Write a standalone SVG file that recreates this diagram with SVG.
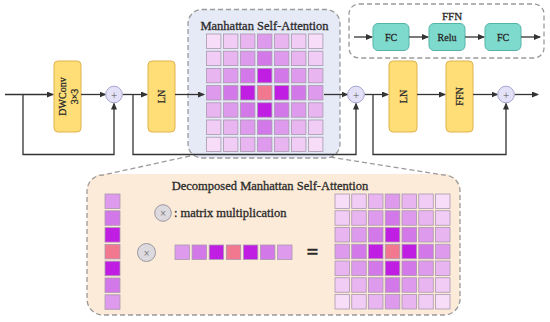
<svg xmlns="http://www.w3.org/2000/svg" width="550" height="322" viewBox="0 0 550 322">
<defs>
<marker id="ah" markerUnits="userSpaceOnUse" markerWidth="7" markerHeight="6" refX="6" refY="3" orient="auto">
<path d="M0,0 L7,3 L0,6 Z" fill="#333"/>
</marker>
<style>
text{font-family:"Liberation Serif","Times New Roman",serif;fill:#2a2a2a;stroke:#2a2a2a;stroke-width:0.3}
.yb{fill:#FFDE78;stroke:#E2B24C;stroke-width:1}
.tb{fill:#7FDACE;stroke:#52B3A6;stroke-width:1}
.add{fill:#E3E1F7;stroke:#A6A4D2;stroke-width:1}
.mul{fill:#DCDADF;stroke:#9A98A0;stroke-width:1}
text.sym{font-family:"DejaVu Sans",sans-serif;font-size:8px;fill:#777;stroke:none;text-anchor:middle}
.ln{fill:none;stroke:#333;stroke-width:1.3}
.dash{fill:none;stroke:#9a9a9a;stroke-width:1.3;stroke-dasharray:5,3}
.lbl{font-size:10px;text-anchor:middle}
.ttl{font-size:12.5px;text-anchor:middle}
.cell rect{stroke:#A898AE;stroke-width:0.8}
.c0{fill:#F2788F}.c1{fill:#C01FE3}.c2{fill:#D378E8}.c3{fill:#DE9AEC}.c4{fill:#E9B5F0}.c5{fill:#F1CCF5}.c6{fill:#F8DDF9}
</style>
</defs>

<!-- zoom callout -->
<g id="decomposed">
<rect x="87" y="174" width="373" height="141" rx="16" fill="#FCEBD8"/>
<path class="dash" d="M190,156 L103,175 A16,16 0 0 0 87,191 L87,299 A16,16 0 0 0 103,315 L444,315 A16,16 0 0 0 460,299 L460,191 A16,16 0 0 0 444,175 L330,157"/>
<text class="ttl" x="270" y="190">Decomposed Manhattan Self-Attention</text>
<circle class="mul" cx="163" cy="213" r="8.3"/>
<text class="sym" x="163" y="216">×</text>
<text x="174" y="217" font-size="12.5">: matrix multiplication</text>
<g class="cell">
<rect class="c3" x="105" y="194" width="15" height="14.5"/>
<rect class="c2" x="105" y="210.8" width="15" height="14.5"/>
<rect class="c1" x="105" y="227.6" width="15" height="14.5"/>
<rect class="c0" x="105" y="244.4" width="15" height="14.5"/>
<rect class="c1" x="105" y="261.2" width="15" height="14.5"/>
<rect class="c2" x="105" y="278" width="15" height="14.5"/>
<rect class="c3" x="105" y="294.8" width="15" height="14.5"/>
</g>
<circle class="mul" cx="146.5" cy="252.5" r="9"/>
<text class="sym" x="146.5" y="255.5">×</text>
<g class="cell">
<rect class="c3" x="175" y="245" width="14.4" height="14.4"/>
<rect class="c2" x="192.1" y="245" width="14.4" height="14.4"/>
<rect class="c1" x="209.2" y="245" width="14.4" height="14.4"/>
<rect class="c0" x="226.3" y="245" width="14.4" height="14.4"/>
<rect class="c1" x="243.4" y="245" width="14.4" height="14.4"/>
<rect class="c2" x="260.5" y="245" width="14.4" height="14.4"/>
<rect class="c3" x="277.6" y="245" width="14.4" height="14.4"/>
</g>
<text x="312.5" y="259" font-size="21" font-weight="bold" text-anchor="middle">=</text>
<g class="cell">
<rect class="c6" x="335" y="194" width="14.5" height="14.5"/><rect class="c5" x="351.75" y="194" width="14.5" height="14.5"/><rect class="c4" x="368.5" y="194" width="14.5" height="14.5"/><rect class="c3" x="385.25" y="194" width="14.5" height="14.5"/><rect class="c4" x="402" y="194" width="14.5" height="14.5"/><rect class="c5" x="418.75" y="194" width="14.5" height="14.5"/><rect class="c6" x="435.5" y="194" width="14.5" height="14.5"/>
<rect class="c5" x="335" y="210.75" width="14.5" height="14.5"/><rect class="c4" x="351.75" y="210.75" width="14.5" height="14.5"/><rect class="c3" x="368.5" y="210.75" width="14.5" height="14.5"/><rect class="c2" x="385.25" y="210.75" width="14.5" height="14.5"/><rect class="c3" x="402" y="210.75" width="14.5" height="14.5"/><rect class="c4" x="418.75" y="210.75" width="14.5" height="14.5"/><rect class="c5" x="435.5" y="210.75" width="14.5" height="14.5"/>
<rect class="c4" x="335" y="227.5" width="14.5" height="14.5"/><rect class="c3" x="351.75" y="227.5" width="14.5" height="14.5"/><rect class="c2" x="368.5" y="227.5" width="14.5" height="14.5"/><rect class="c1" x="385.25" y="227.5" width="14.5" height="14.5"/><rect class="c2" x="402" y="227.5" width="14.5" height="14.5"/><rect class="c3" x="418.75" y="227.5" width="14.5" height="14.5"/><rect class="c4" x="435.5" y="227.5" width="14.5" height="14.5"/>
<rect class="c3" x="335" y="244.25" width="14.5" height="14.5"/><rect class="c2" x="351.75" y="244.25" width="14.5" height="14.5"/><rect class="c1" x="368.5" y="244.25" width="14.5" height="14.5"/><rect class="c0" x="385.25" y="244.25" width="14.5" height="14.5"/><rect class="c1" x="402" y="244.25" width="14.5" height="14.5"/><rect class="c2" x="418.75" y="244.25" width="14.5" height="14.5"/><rect class="c3" x="435.5" y="244.25" width="14.5" height="14.5"/>
<rect class="c4" x="335" y="261" width="14.5" height="14.5"/><rect class="c3" x="351.75" y="261" width="14.5" height="14.5"/><rect class="c2" x="368.5" y="261" width="14.5" height="14.5"/><rect class="c1" x="385.25" y="261" width="14.5" height="14.5"/><rect class="c2" x="402" y="261" width="14.5" height="14.5"/><rect class="c3" x="418.75" y="261" width="14.5" height="14.5"/><rect class="c4" x="435.5" y="261" width="14.5" height="14.5"/>
<rect class="c5" x="335" y="277.75" width="14.5" height="14.5"/><rect class="c4" x="351.75" y="277.75" width="14.5" height="14.5"/><rect class="c3" x="368.5" y="277.75" width="14.5" height="14.5"/><rect class="c2" x="385.25" y="277.75" width="14.5" height="14.5"/><rect class="c3" x="402" y="277.75" width="14.5" height="14.5"/><rect class="c4" x="418.75" y="277.75" width="14.5" height="14.5"/><rect class="c5" x="435.5" y="277.75" width="14.5" height="14.5"/>
<rect class="c6" x="335" y="294.5" width="14.5" height="14.5"/><rect class="c5" x="351.75" y="294.5" width="14.5" height="14.5"/><rect class="c4" x="368.5" y="294.5" width="14.5" height="14.5"/><rect class="c3" x="385.25" y="294.5" width="14.5" height="14.5"/><rect class="c4" x="402" y="294.5" width="14.5" height="14.5"/><rect class="c5" x="418.75" y="294.5" width="14.5" height="14.5"/><rect class="c6" x="435.5" y="294.5" width="14.5" height="14.5"/>
</g>
</g>

<g id="masa">
<rect x="188" y="9.5" width="152" height="148.5" rx="14" fill="#E6E9F6" stroke="#9a9a9a" stroke-width="1.3" stroke-dasharray="5,3"/>
<text class="ttl" x="264.5" y="30">Manhattan Self-Attention</text>
<g class="cell">
<rect class="c6" x="206.5" y="34" width="14.4" height="14.4"/><rect class="c5" x="223.5" y="34" width="14.4" height="14.4"/><rect class="c4" x="240.5" y="34" width="14.4" height="14.4"/><rect class="c3" x="257.5" y="34" width="14.4" height="14.4"/><rect class="c4" x="274.5" y="34" width="14.4" height="14.4"/><rect class="c5" x="291.5" y="34" width="14.4" height="14.4"/><rect class="c6" x="308.5" y="34" width="14.4" height="14.4"/>
<rect class="c5" x="206.5" y="51.2" width="14.4" height="14.4"/><rect class="c4" x="223.5" y="51.2" width="14.4" height="14.4"/><rect class="c3" x="240.5" y="51.2" width="14.4" height="14.4"/><rect class="c2" x="257.5" y="51.2" width="14.4" height="14.4"/><rect class="c3" x="274.5" y="51.2" width="14.4" height="14.4"/><rect class="c4" x="291.5" y="51.2" width="14.4" height="14.4"/><rect class="c5" x="308.5" y="51.2" width="14.4" height="14.4"/>
<rect class="c4" x="206.5" y="68.4" width="14.4" height="14.4"/><rect class="c3" x="223.5" y="68.4" width="14.4" height="14.4"/><rect class="c2" x="240.5" y="68.4" width="14.4" height="14.4"/><rect class="c1" x="257.5" y="68.4" width="14.4" height="14.4"/><rect class="c2" x="274.5" y="68.4" width="14.4" height="14.4"/><rect class="c3" x="291.5" y="68.4" width="14.4" height="14.4"/><rect class="c4" x="308.5" y="68.4" width="14.4" height="14.4"/>
<rect class="c3" x="206.5" y="85.6" width="14.4" height="14.4"/><rect class="c2" x="223.5" y="85.6" width="14.4" height="14.4"/><rect class="c1" x="240.5" y="85.6" width="14.4" height="14.4"/><rect class="c0" x="257.5" y="85.6" width="14.4" height="14.4"/><rect class="c1" x="274.5" y="85.6" width="14.4" height="14.4"/><rect class="c2" x="291.5" y="85.6" width="14.4" height="14.4"/><rect class="c3" x="308.5" y="85.6" width="14.4" height="14.4"/>
<rect class="c4" x="206.5" y="102.8" width="14.4" height="14.4"/><rect class="c3" x="223.5" y="102.8" width="14.4" height="14.4"/><rect class="c2" x="240.5" y="102.8" width="14.4" height="14.4"/><rect class="c1" x="257.5" y="102.8" width="14.4" height="14.4"/><rect class="c2" x="274.5" y="102.8" width="14.4" height="14.4"/><rect class="c3" x="291.5" y="102.8" width="14.4" height="14.4"/><rect class="c4" x="308.5" y="102.8" width="14.4" height="14.4"/>
<rect class="c5" x="206.5" y="120" width="14.4" height="14.4"/><rect class="c4" x="223.5" y="120" width="14.4" height="14.4"/><rect class="c3" x="240.5" y="120" width="14.4" height="14.4"/><rect class="c2" x="257.5" y="120" width="14.4" height="14.4"/><rect class="c3" x="274.5" y="120" width="14.4" height="14.4"/><rect class="c4" x="291.5" y="120" width="14.4" height="14.4"/><rect class="c5" x="308.5" y="120" width="14.4" height="14.4"/>
<rect class="c6" x="206.5" y="137.2" width="14.4" height="14.4"/><rect class="c5" x="223.5" y="137.2" width="14.4" height="14.4"/><rect class="c4" x="240.5" y="137.2" width="14.4" height="14.4"/><rect class="c3" x="257.5" y="137.2" width="14.4" height="14.4"/><rect class="c4" x="274.5" y="137.2" width="14.4" height="14.4"/><rect class="c5" x="291.5" y="137.2" width="14.4" height="14.4"/><rect class="c6" x="308.5" y="137.2" width="14.4" height="14.4"/>
</g>
</g>

<g id="ffn-detail">
<rect x="349" y="4" width="195" height="54" rx="10" class="dash"/>
<text x="452" y="19.5" font-size="11" text-anchor="middle">FFN</text>
<g id="fc1"><rect class="tb" x="373" y="23.5" width="36" height="27" rx="5"/><text class="lbl" x="391" y="40.5">FC</text></g>
<g id="relu"><rect class="tb" x="429" y="23.5" width="36" height="27" rx="5"/><text class="lbl" x="447" y="40.5" font-size="10.5">Relu</text></g>
<g id="fc2"><rect class="tb" x="485" y="23.5" width="36" height="27" rx="5"/><text class="lbl" x="503" y="40.5">FC</text></g>
</g>

<g id="dwconv">
<rect class="yb" x="54" y="61" width="27" height="71" rx="4"/>
<text class="lbl" transform="translate(66,96.5) rotate(-90)">DWConv</text>
<text class="lbl" transform="translate(77.5,96.5) rotate(-90)">3×3</text>
</g>
<g id="ln1">
<rect class="yb" x="148" y="61" width="27" height="71" rx="4"/>
<text class="lbl" transform="translate(165,96.5) rotate(-90)">LN</text>
</g>
<g id="ln2">
<rect class="yb" x="389" y="61" width="28" height="71" rx="4"/>
<text class="lbl" transform="translate(406.5,96.5) rotate(-90)">LN</text>
</g>
<g id="ffn">
<rect class="yb" x="446" y="61" width="27" height="71" rx="4"/>
<text class="lbl" font-size="9.5" transform="translate(463,96.5) rotate(-90)">FFN</text>
</g>

<g id="connectors">
<path class="ln" d="M5,94.5 L53,94.5" marker-end="url(#ah)"/>
<path class="ln" d="M81,94.5 L105.5,94.5" marker-end="url(#ah)"/>
<path class="ln" d="M122.5,94.5 L147,94.5" marker-end="url(#ah)"/>
<path class="ln" d="M175,94.5 L204,94.5" marker-end="url(#ah)"/>
<path class="ln" d="M324,94.5 L347.5,94.5" marker-end="url(#ah)"/>
<path class="ln" d="M364.5,94.5 L388,94.5" marker-end="url(#ah)"/>
<path class="ln" d="M417,94.5 L445,94.5" marker-end="url(#ah)"/>
<path class="ln" d="M473,94.5 L497.5,94.5" marker-end="url(#ah)"/>
<path class="ln" d="M514.5,94.5 L538,94.5" marker-end="url(#ah)"/>
<path class="ln" d="M23,94.5 L23,154.5 L114,154.5 L114,103.5" marker-end="url(#ah)"/>
<path class="ln" d="M133,94.5 L133,154.5 L356,154.5 L356,103.5" marker-end="url(#ah)"/>
<path class="ln" d="M373,94.5 L373,154.5 L506,154.5 L506,103.5" marker-end="url(#ah)"/>
<path class="ln" d="M354,37 L372,37" marker-end="url(#ah)"/>
<path class="ln" d="M409,37 L428,37" marker-end="url(#ah)"/>
<path class="ln" d="M465,37 L484,37" marker-end="url(#ah)"/>
<path class="ln" d="M521,37 L540,37" marker-end="url(#ah)"/>
</g>

<g id="add1"><circle class="add" cx="114" cy="94.5" r="8.3"/><text class="sym" x="114" y="97.5">+</text></g>
<g id="add2"><circle class="add" cx="356" cy="94.5" r="8.3"/><text class="sym" x="356" y="97.5">+</text></g>
<g id="add3"><circle class="add" cx="506" cy="94.5" r="8.3"/><text class="sym" x="506" y="97.5">+</text></g>
</svg>
